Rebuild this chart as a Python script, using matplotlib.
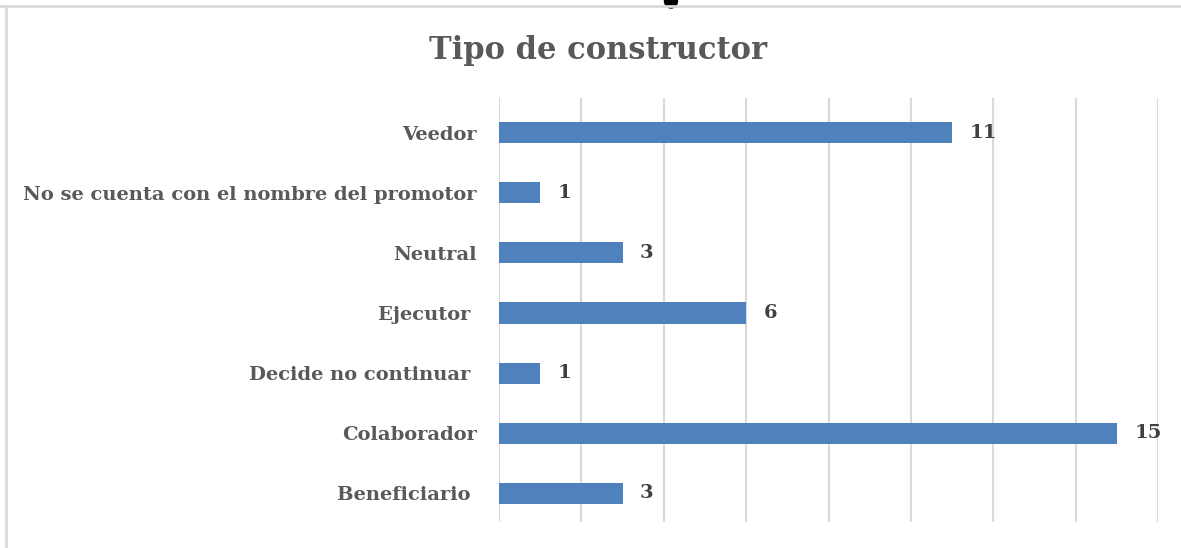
import matplotlib.pyplot as plt
from matplotlib.patches import Ellipse
from matplotlib.lines import Line2D

categorias = ["Beneficiario ", "Colaborador", "Decide no continuar ", "Ejecutor ",
              "Neutral", "No se cuenta con el nombre del promotor", "Veedor"]
valores = [3, 15, 1, 6, 3, 1, 11]
ticks_x = list(range(0, 17, 2))

W, H = 1181, 548
fig = plt.figure(figsize=(W / 100, H / 100), dpi=100)
serif = ["DejaVu Serif"]

# chart frame (top and left edges visible)
fig.add_artist(Line2D([0, 1], [1 - 5.5 / H, 1 - 5.5 / H], color="#d9d9d9", lw=2))
fig.add_artist(Line2D([5.5 / W, 5.5 / W], [0, 1 - 5.5 / H], color="#d9d9d9", lw=2))
# black blot at the top edge
fig.add_artist(Ellipse((671 / W, 1 - 1 / H), 13 / W, 14 / H, color="black"))

ax = fig.add_axes([499 / W, 26 / H, 659 / W, 424 / H])
pos = list(range(len(categorias)))
ax.barh(pos, valores, height=0.35, color="#4f81bd", zorder=3)
ax.set_xlim(0, 16)
ax.set_ylim(-0.48, 6.58)
ax.set_xticks(ticks_x)
ax.set_xticklabels([])
ax.tick_params(axis="x", length=0)
ax.tick_params(axis="y", length=0, pad=16)
ax.grid(axis="x", color="#d9d9d9", lw=1.5, zorder=0)
for s in ax.spines.values():
    s.set_visible(False)
ax.set_yticks(pos)
ax.set_yticklabels(categorias, fontfamily=serif, fontweight="bold",
                   fontsize=14, color="#595959")

for p, v in zip(pos, valores):
    ax.text(v + 0.42, p, str(v), va="center", ha="left", fontfamily=serif,
            fontweight="bold", fontsize=14, color="#404040")

fig.text(598 / W, 1 - 51 / H, "Tipo de constructor", ha="center", va="center",
         fontfamily=serif, fontweight="bold", fontsize=22, color="#595959")

fig.savefig("out.png", dpi=100)
